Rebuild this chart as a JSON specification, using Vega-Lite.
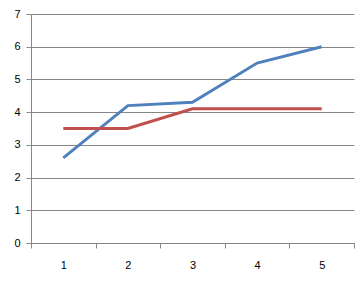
{
  "$schema": "https://vega.github.io/schema/vega-lite/v6.json",
  "width": 323,
  "height": 229,
  "autosize": {"type": "none"},
  "padding": {"left": 31, "top": 14, "right": 4, "bottom": 43},
  "background": "white",
  "config": {"view": {"stroke": null}, "font": "Liberation Sans"},
  "data": {"values": [
    {"x": "1", "series": "A", "y": 2.6},
    {"x": "2", "series": "A", "y": 4.2},
    {"x": "3", "series": "A", "y": 4.3},
    {"x": "4", "series": "A", "y": 5.5},
    {"x": "5", "series": "A", "y": 6.0},
    {"x": "1", "series": "B", "y": 3.5},
    {"x": "2", "series": "B", "y": 3.5},
    {"x": "3", "series": "B", "y": 4.1},
    {"x": "4", "series": "B", "y": 4.1},
    {"x": "5", "series": "B", "y": 4.1}
  ]},
  "mark": {"type": "line", "strokeWidth": 3},
  "encoding": {
    "x": {
      "field": "x", "type": "ordinal",
      "scale": {"paddingInner": 0, "paddingOuter": 0},
      "axis": {"title": null, "labelAngle": 0, "tickBand": "extent", "domainColor": "#868686", "tickColor": "#868686", "tickSize": 5, "labelPadding": 11, "labelFontSize": 11, "labelColor": "#000", "grid": false}
    },
    "y": {
      "field": "y", "type": "quantitative",
      "scale": {"domain": [0, 7], "nice": false},
      "axis": {"title": null, "values": [0,1,2,3,4,5,6,7], "domainColor": "#868686", "tickColor": "#868686", "tickSize": 5, "labelPadding": 6, "labelFontSize": 11, "labelColor": "#000", "gridColor": "#868686", "gridOpacity": 1}
    },
    "color": {
      "field": "series", "type": "nominal",
      "scale": {"domain": ["A", "B"], "range": ["#4F81BD", "#C0504D"]},
      "legend": null
    }
  }
}
